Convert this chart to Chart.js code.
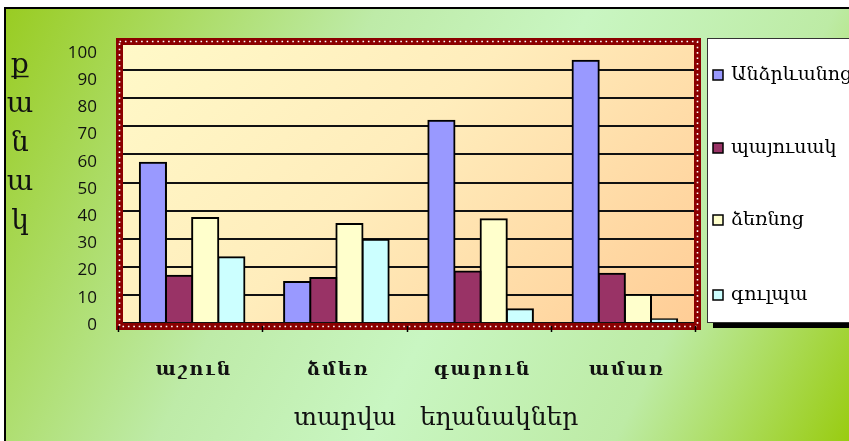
<!DOCTYPE html>
<html>
<head>
<meta charset="utf-8">
<script src="https://cdn.jsdelivr.net/npm/chart.js@4/dist/chart.umd.min.js"></script>
<style>
  html, body { margin: 0; padding: 0; background: #fff; }
  canvas { display: block; }
</style>
</head>
<body>
<canvas id="c" width="849" height="441"></canvas>
<script>
// ---- data ----
const categories = ["աշուն", "ձմեռ", "գարուն", "ամառ"];
const seriesNames = ["Անձրևանոց", "պայուսակ", "ձեռնոց", "գուլպա"];
const umbrella = [57, 14.6, 72, 93.3];
const bag = [16.8, 16, 18.3, 17.5];
const gloves = [37.4, 35.2, 36.9, 10];
const socks = [23.4, 29.6, 4.9, 1.3];
const yTicks = [0, 10, 20, 30, 40, 50, 60, 70, 80, 90, 100];
const yTitleLetters = ["ք", "ա", "ն", "ա", "կ"];
const xTitle = "տարվա   եղանակներ";

const colors = ["#9999FF", "#993366", "#FFFFCC", "#CCFFFF"];
const seriesData = [umbrella, bag, gloves, socks];

const ARM = '"DejaVu Serif", "Liberation Serif", serif';

const decor = {
  id: 'decor',
  beforeDraw(chart) {
    const ctx = chart.ctx;
    const W = chart.width, H = chart.height;
    const a = chart.chartArea;
    ctx.save();
    ctx.fillStyle = '#fff';
    ctx.fillRect(0, 0, W, H);
    // outer green gradient
    const g = ctx.createLinearGradient(5, 8, W, H);
    g.addColorStop(0, '#99CC22');
    g.addColorStop(0.35, '#BEEBA8');
    g.addColorStop(0.55, '#C9F6C2');
    g.addColorStop(0.78, '#BDEBA5');
    g.addColorStop(1, '#99CC11');
    ctx.fillStyle = g;
    ctx.fillRect(5, 8, W - 5, H - 8);
    ctx.strokeStyle = '#000';
    ctx.lineWidth = 2;
    ctx.beginPath();
    ctx.moveTo(5, H);
    ctx.lineTo(5, 8);
    ctx.lineTo(W, 8);
    ctx.stroke();
    // plot area gradient (45 degrees)
    const w = a.right - a.left, h = a.bottom - a.top;
    const d = (w + h) / 2;
    const pg = ctx.createLinearGradient(a.left, a.top, a.left + d, a.top + d);
    pg.addColorStop(0, '#FFF9C8');
    pg.addColorStop(0.45, '#FFEDBC');
    pg.addColorStop(1, '#FFCD96');
    ctx.fillStyle = pg;
    ctx.fillRect(a.left, a.top, w, h);
    ctx.restore();
  },
  afterDraw(chart) {
    const ctx = chart.ctx;
    const a = chart.chartArea;
    const xs = chart.scales.x, ys = chart.scales.y;
    ctx.save();
    // dotted red frame
    ctx.strokeStyle = '#8B0000';
    ctx.lineWidth = 7;
    ctx.strokeRect(a.left - 0.5, a.top - 0.5, a.right - a.left + 1, a.bottom - a.top + 4);
    ctx.strokeStyle = '#FFFFFF';
    ctx.lineWidth = 1.6;
    ctx.setLineDash([1.6, 3.8]);
    ctx.strokeRect(a.left - 0.5, a.top - 0.5, a.right - a.left + 1, a.bottom - a.top + 4);
    ctx.setLineDash([]);
    // x tick marks
    ctx.strokeStyle = '#000';
    ctx.lineWidth = 1.5;
    const n = categories.length;
    const step = (a.right - a.left) / n;
    for (let i = 0; i <= n; i++) {
      const x = Math.round(a.left - 2 + i * step) + 0.5;
      ctx.beginPath();
      ctx.moveTo(x, a.bottom + 3);
      ctx.lineTo(x, a.bottom + 9);
      ctx.stroke();
    }
    // y labels
    ctx.fillStyle = '#111';
    ctx.font = '17px "Open Sans", "Liberation Sans", sans-serif';
    ctx.textAlign = 'right';
    ctx.textBaseline = 'middle';
    yTicks.forEach(v => {
      const y = ys.getPixelForValue(v * 0.968) + 2;
      ctx.fillText(String(v), 97, y);
    });
    // x category labels
    ctx.font = 'bold 19px ' + ARM;
    ctx.textAlign = 'center';
    ctx.letterSpacing = '2px';
    categories.forEach((c, i) => {
      ctx.fillText(c, xs.getPixelForValue(i) + 2, 370);
    });
    ctx.letterSpacing = '0px';
    // x title
    ctx.font = '25px ' + ARM;
    ctx.fillText(xTitle, 436, 418);
    // y title (stacked letters)
    ctx.font = '28px ' + ARM;
    ctx.textAlign = 'center';
    const yPos = [66, 105, 144, 183, 222];
    yTitleLetters.forEach((ch, i) => ctx.fillText(ch, 20, yPos[i]));
    // legend box
    const lx = 707, ly = 38, lw = 160, lh = 284;
    ctx.fillStyle = '#000';
    ctx.fillRect(lx + 6, ly + lh, lw, 6);
    ctx.fillStyle = '#fff';
    ctx.fillRect(lx, ly, lw, lh);
    ctx.strokeStyle = '#333';
    ctx.lineWidth = 1;
    ctx.strokeRect(lx + 0.5, ly + 0.5, lw, lh);
    const itemY = [75, 148, 220, 295];
    ctx.font = '19px ' + ARM;
    ctx.textAlign = 'left';
    chart.data.datasets.forEach((ds, i) => {
      ctx.fillStyle = ds.backgroundColor;
      ctx.fillRect(713, itemY[i] - 5, 10, 10);
      ctx.strokeStyle = '#000';
      ctx.lineWidth = 1.5;
      ctx.strokeRect(713, itemY[i] - 5, 10, 10);
      ctx.fillStyle = '#000';
      ctx.fillText(ds.label, 731, itemY[i]);
    });
    ctx.restore();
  }
};

new Chart(document.getElementById('c'), {
  type: 'bar',
  data: {
    labels: categories,
    datasets: seriesNames.map((name, i) => ({
      label: name,
      data: seriesData[i],
      backgroundColor: colors[i],
      borderColor: '#000',
      borderWidth: 2,
      borderSkipped: 'bottom',
      inflateAmount: 1,
      categoryPercentage: 0.725,
      barPercentage: 1.0
    }))
  },
  options: {
    responsive: false,
    animation: false,
    devicePixelRatio: 1,
    layout: { padding: { left: 120, top: 42, right: 152, bottom: 118 } },
    plugins: { legend: { display: false }, tooltip: { enabled: false } },
    scales: {
      x: { display: false },
      y: {
        display: true,
        min: 0, max: 100,
        ticks: { display: false, stepSize: 10 },
        border: { display: false },
        grid: { color: '#111', lineWidth: 2, drawTicks: false }
      }
    }
  },
  plugins: [decor]
});
</script>
</body>
</html>
